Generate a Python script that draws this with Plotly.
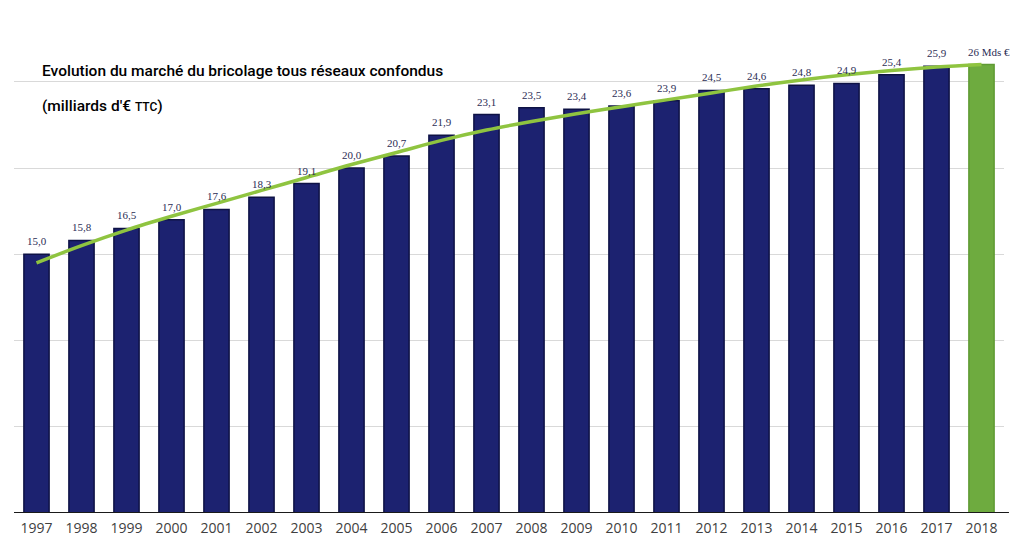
import plotly.graph_objects as go

years = ["1997", "1998", "1999", "2000", "2001", "2002", "2003", "2004", "2005", "2006", "2007",
         "2008", "2009", "2010", "2011", "2012", "2013", "2014", "2015", "2016", "2017", "2018"]
market = [15.0, 15.8, 16.5, 17.0, 17.6, 18.3, 19.1, 20.0, 20.7, 21.9, 23.1,
          23.5, 23.4, 23.6, 23.9, 24.5, 24.6, 24.8, 24.9, 25.4, 25.9, 26.0]
labels = ["15,0", "15,8", "16,5", "17,0", "17,6", "18,3", "19,1", "20,0", "20,7", "21,9", "23,1",
          "23,5", "23,4", "23,6", "23,9", "24,5", "24,6", "24,8", "24,9", "25,4", "25,9", "26 Mds €"]
trend = [14.5, 15.5, 16.4, 17.2, 17.95, 18.7, 19.45, 20.2, 20.9, 21.6, 22.2,
         22.7, 23.15, 23.55, 23.95, 24.35, 24.75, 25.1, 25.4, 25.65, 25.85, 26.0]

NAVY = "#1c2270"
GREEN = "#6eab3f"
bar_colors = [NAVY] * (len(years) - 1) + [GREEN]
line_colors = ["#0e1245"] * (len(years) - 1) + ["#5f9a33"]

fig = go.Figure()
fig.add_trace(go.Bar(
    x=years, y=market, width=0.56,
    marker=dict(color=bar_colors, line=dict(color=line_colors, width=1.5)),
    hoverinfo="skip", showlegend=False,
))
fig.add_trace(go.Scatter(
    x=years, y=trend, mode="lines",
    line=dict(color="#8fc440", width=3.5, shape="spline"),
    hoverinfo="skip", showlegend=False,
))

for i, (v, t) in enumerate(zip(market, labels)):
    fig.add_annotation(
        x=i, y=v, text=t, showarrow=False, yanchor="bottom", yshift=5,
        xshift=7 if i == len(years) - 1 else 0,
        font=dict(family="Liberation Serif, DejaVu Serif, serif", size=11, color="#2b2d55"),
    )

title_font = dict(family="Roboto, sans-serif", size=15.5, color="#000000", weight=500)
fig.add_annotation(
    xref="paper", yref="paper", x=0.026, y=0.915, xanchor="left", yanchor="middle",
    showarrow=False, text="Evolution du marché du bricolage tous réseaux confondus", font=title_font,
)
fig.add_annotation(
    xref="paper", yref="paper", x=0.026, y=0.842, xanchor="left", yanchor="middle",
    showarrow=False, text="(milliards d'€ <span style='font-size:12px'>TTC</span>)", font=title_font,
)

fig.update_layout(
    width=1024, height=545,
    margin=dict(l=14, r=20, t=30, b=32),
    paper_bgcolor="white", plot_bgcolor="white",
    bargap=0.44,
    xaxis=dict(
        type="category", showgrid=False, showline=False, ticks="",
        tickfont=dict(family="Open Sans, DejaVu Sans, sans-serif", size=14, color="#404040"),
        range=[-0.5, 21.5], ticklabelstandoff=5, automargin=False,
    ),
    yaxis=dict(
        range=[0, 28], tickvals=[5, 10, 15, 20, 25], showticklabels=False,
        showgrid=True, gridcolor="#d9d9d9", gridwidth=1, zeroline=False, automargin=False,
    ),
    shapes=[dict(type="line", xref="paper", yref="y", x0=0, x1=1.005, y0=0, y1=0,
                 line=dict(color="#1a1a1a", width=2))],
)

fig.write_html("out.html")
